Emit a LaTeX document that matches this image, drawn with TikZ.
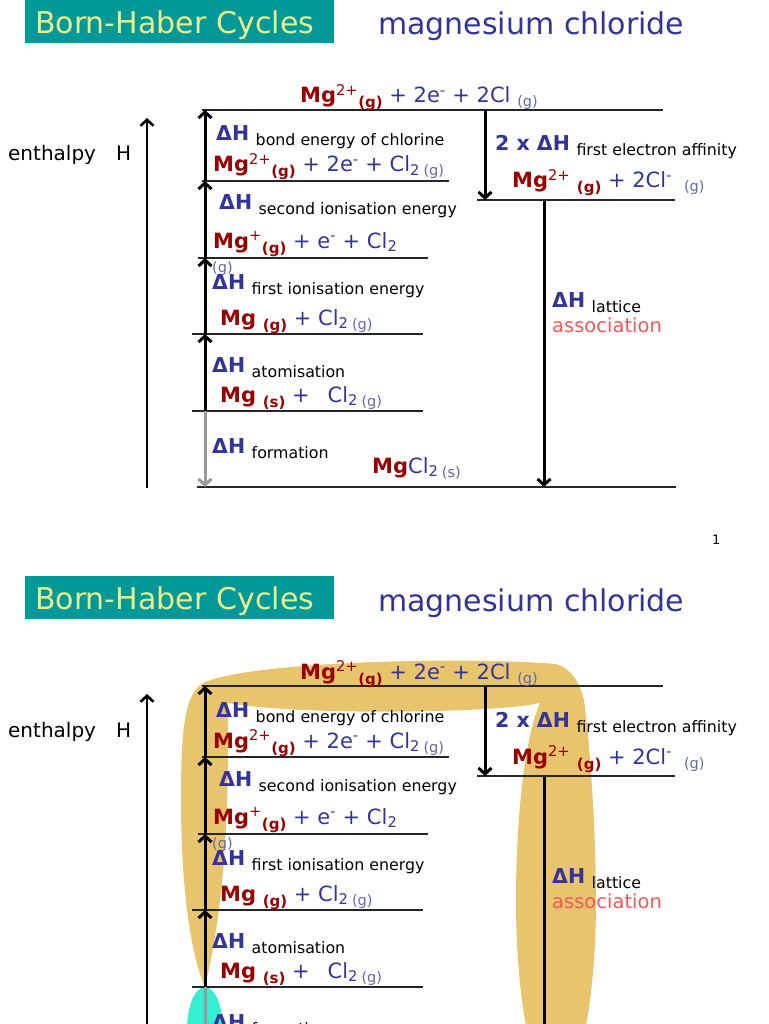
\documentclass[tikz,border=0pt]{standalone}
\usepackage{fontspec}
\setmainfont{DejaVu Sans}
\usepackage{xcolor}
\usetikzlibrary{arrows.meta}
\definecolor{slideteal}{HTML}{009999}
\definecolor{slideyellow}{HTML}{EEEE88}
\definecolor{chemblue}{HTML}{333399}
\definecolor{mgred}{HTML}{990000}
\definecolor{stateblue}{HTML}{6666AA}
\definecolor{assocred}{HTML}{F25757}
\definecolor{formgrey}{HTML}{999999}
\definecolor{hltan}{HTML}{E8C46C}
\definecolor{hlcyan}{HTML}{33F0D0}
\newcommand{\Mgion}[1]{\textcolor{mgred}{\textbf{Mg}\textsuperscript{#1}}}
\newcommand{\gR}[1]{\raisebox{-5pt}{\fontsize{15}{15}\selectfont\bfseries\textcolor{mgred}{#1}}}
\newcommand{\gB}[1]{\raisebox{-4pt}{\fontsize{14.5}{15}\selectfont\textcolor{stateblue}{#1}}}
\newcommand{\dHlab}[2][\textbf{ΔH}]{\textcolor{chemblue}{#1} \raisebox{-5pt}{\fontsize{15.8}{17}\selectfont\color{black}#2}}

\begin{document}
\begin{tikzpicture}[x=1pt,y=-1pt,
    every node/.style={inner sep=0pt,anchor=base west},
    chem/.style={text=chemblue,font=\fontsize{21}{23}\selectfont},
    dhtext/.style={font=\fontsize{20.5}{22}\selectfont},
    titlebox/.style={anchor=north west,fill=slideteal,text=slideyellow,
      font=\fontsize{30}{32}\selectfont,minimum width=309pt,minimum height=43pt,
      text width=289pt,text height=26pt,text depth=3pt,inner xsep=10pt,inner ysep=7pt,align=left},
    level/.style={draw=black!85,line width=1.1pt},
    bigarrow/.style={line width=3pt,-{Straight Barb[length=6pt,width=13pt]}},
    formarrow/.style={bigarrow,draw=formgrey},
    glow/.style={fill=hltan}]
  \useasboundingbox (0,0) rectangle (768,1024);
  \clip (0,0) rectangle (768,1024);

  % the route that is picked out on the second slide
  \fill[glow] (205,987) .. controls (189,950) and (181,880) .. (181,800)
    .. controls (181,725) and (185,692) .. (205,682)
    .. controls (260,660) and (480,657) .. (555,664)
    .. controls (572,668) and (580,684) .. (584,700)
    .. controls (592,760) and (596,850) .. (596,900)
    .. controls (596,1000) and (580,1085) .. (556,1090)
    .. controls (532,1085) and (516,1000) .. (516,900)
    .. controls (516,820) and (524,740) .. (540,703)
    .. controls (500,713) and (300,716) .. (228,703)
    .. controls (229,800) and (226,900) .. (205,987) -- cycle;
  \fill[hlcyan] (205,1030) ellipse [x radius=18pt, y radius=43pt];

  \foreach \s/\dy in {a/0,b/576}{
  \begin{scope}[yshift=-\dy pt]
    \node[titlebox] (\s-title) at (25,0) {Born-Haber Cycles};
    \node[text=chemblue,font=\fontsize{30}{32}\selectfont] (\s-sub) at (378,35) {magnesium chloride};
    \ifnum\dy=0 \node[font=\fontsize{13}{14}\selectfont] (\s-page) at (712,544) {1};\fi

    % enthalpy axis
    \node[font=\fontsize{20}{22}\selectfont] (\s-enth) at (8,161) {enthalpy\hspace{20pt}H};
    \coordinate (\s-h0) at (147,488);
    \coordinate (\s-h1) at (147,118);
    \draw[bigarrow,line width=2.6pt] (\s-h0) -- (\s-h1);

    % energy levels
    \draw[level] (202,110) -- (663,110);
    \draw[level] (202,181) -- (449,181);
    \draw[level] (198,258) -- (428,258);
    \draw[level] (192,334) -- (423,334);
    \draw[level] (192,411) -- (423,411);
    \draw[level] (197,487) -- (676,487);
    \draw[level] (477,200) -- (675,200);

    \coordinate (\s-a0) at (205,110);
    \coordinate (\s-a1) at (205,181);
    \coordinate (\s-a2) at (205,258);
    \coordinate (\s-a3) at (205,334);
    \coordinate (\s-a4) at (205,411);
    \coordinate (\s-a5) at (205,487);
    \coordinate (\s-ea0) at (485,110);
    \coordinate (\s-ea1) at (485,200);
    \coordinate (\s-lt0) at (544,201);
    \coordinate (\s-lt1) at (544,487);

    \draw[bigarrow] (\s-a1) -- (\s-a0);
    \draw[bigarrow] (\s-a2) -- (\s-a1);
    \draw[bigarrow] (\s-a3) -- (\s-a2);
    \draw[bigarrow] (\s-a4) -- (\s-a3);
    \draw[formarrow] (\s-a4) -- (\s-a5);
    \draw[bigarrow] (\s-ea0) -- (\s-ea1);
    \draw[bigarrow] (\s-lt0) -- (\s-lt1);

    % species on each level
    \node[chem] (\s-top) at (300,103) {\Mgion{2+}\gR{(g)} + 2e\textsuperscript{-} + 2Cl \gB{(g)}};
    \node[chem] (\s-sp1) at (213,172) {\Mgion{2+}\gR{(g)} + 2e\textsuperscript{-} + Cl\textsubscript{2}\,\gB{(g)}};
    \node[chem] (\s-sp2) at (213,248) {\Mgion{+}\gR{(g)} + e\textsuperscript{-} + Cl\textsubscript{2}};
    \node[text=stateblue,font=\fontsize{14.5}{15}\selectfont] (\s-sp2g) at (212,272) {(g)};
    \node[chem] (\s-sp3) at (220,325) {\textcolor{mgred}{\textbf{Mg}} \gR{(g)} + Cl\textsubscript{2}\,\gB{(g)}};
    \node[chem] (\s-sp4) at (220,402) {\textcolor{mgred}{\textbf{Mg}} \gR{(s)} +\hspace{18pt}Cl\textsubscript{2}\,\gB{(g)}};
    \node[chem] (\s-sp5) at (372,473) {\textcolor{mgred}{\textbf{Mg}}Cl\textsubscript{2}\,\gB{(s)}};
    \node[chem] (\s-sp6) at (512,188) {\Mgion{2+} \gR{(g)} + 2Cl\textsuperscript{-}\hspace{12pt}\gB{(g)}};

    % enthalpy changes
    \node[dhtext] (\s-dh1) at (216,141) {\dHlab{bond energy of chlorine}};
    \node[dhtext] (\s-dh2) at (219,210) {\dHlab{second ionisation energy}};
    \node[dhtext] (\s-dh3) at (212,289) {\dHlab{first ionisation energy}};
    \node[dhtext] (\s-dh4) at (212,372) {\dHlab{atomisation}};
    \node[dhtext] (\s-dh5) at (212,453) {\dHlab{formation}};
    \node[dhtext] (\s-dh6) at (495,151) {\dHlab[\textbf{2 x ΔH}]{first electron affinity}};
    \node[dhtext] (\s-dh7) at (552,307) {\dHlab{lattice}};
    \node[text=assocred,font=\fontsize{19.5}{21}\selectfont] (\s-assoc) at (552,332) {association};
  \end{scope}}
\end{tikzpicture}
\end{document}
